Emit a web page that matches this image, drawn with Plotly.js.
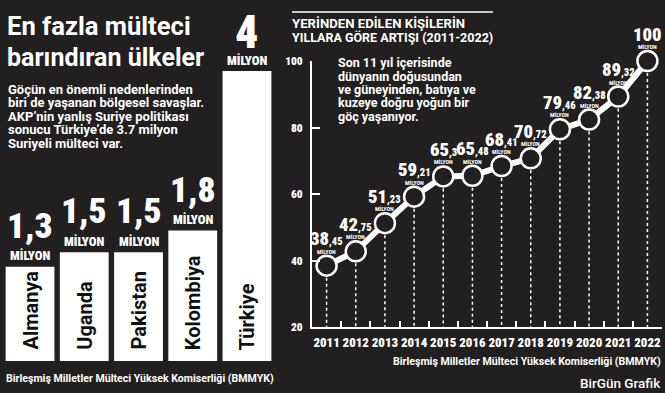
<!DOCTYPE html>
<html><head><meta charset="utf-8">
<script src="https://cdn.plot.ly/plotly-3.0.1.min.js"></script>
<style>html,body{margin:0;padding:0;background:#211f20;}#chart{width:665px;height:393px;}
text[style*="zzcond"]{font-stretch:75% !important;}</style>
</head><body><div id="chart"></div>
<script>
// ---- data ----
const countries = ['Almanya', 'Uganda', 'Pakistan', 'Kolombiya', 'Türkiye'];
const refugees = [1.3, 1.5, 1.5, 1.8, 4];
const years = [2011, 2012, 2013, 2014, 2015, 2016, 2017, 2018, 2019, 2020, 2021, 2022];
const displaced = [38.45, 42.75, 51.23, 59.21, 65.3, 65.48, 68.41, 70.72, 79.46, 82.38, 89.32, 100];
const yTicks = [20, 40, 60, 80, 100];
const unit = 'MİLYON';
const leftTitle = ['En fazla mülteci', 'barındıran ülkeler'];
const leftText = ['Göçün en önemli nedenlerinden', 'biri de yaşanan bölgesel savaşlar.', 'AKP’nin yanlış Suriye politikası', 'sonucu Türkiye’de 3.7 milyon', 'Suriyeli mülteci var.'];
const rightTitle = ['YERİNDEN EDİLEN KİŞİLERİN', 'YILLARA GÖRE ARTIŞI (2011-2022)'];
const rightText = ['Son 11 yıl içerisinde', 'dünyanın doğusundan', 've güneyinden, batıya ve', 'kuzeye doğru yoğun bir', 'göç yaşanıyor.'];
const source = 'Birleşmiş Milletler Mülteci Yüksek Komiserliği (BMMYK)';
const credit = 'BirGün Grafik';

// ---- condensed font detection ----
const ctx = document.createElement('canvas').getContext('2d');
function digitEm(fam, stretch) {
  ctx.font = (stretch ? 'condensed ' : '') + 'bold 100px ' + fam;
  if ('fontStretch' in ctx) ctx.fontStretch = stretch ? 'condensed' : 'normal';
  return ctx.measureText('0123456789').width / 1000;
}
function present(name) {
  const s = 'abcdefghijklmnopqrstuvwxyz 0123456789 WMİ';
  for (const base of ['monospace', 'serif']) {
    ctx.font = '32px ' + base; const w0 = ctx.measureText(s).width;
    ctx.font = '32px "' + name + '", ' + base; const w1 = ctx.measureText(s).width;
    if (Math.abs(w0 - w1) > 0.5) return true;
  }
  return false;
}
let COND = 'Roboto', DEM = digitEm('Roboto', false);
const named = ['Liberation Sans Narrow', 'Roboto Condensed', 'Open Sans Condensed', 'Noto Sans Condensed', 'DejaVu Sans Condensed'];
let found = false;
for (const n of named) { if (present(n)) { COND = '"' + n + '"'; DEM = digitEm(COND, false); found = true; break; } }
if (!found) {
  for (const n of ['Open Sans', 'Noto Sans', 'DejaVu Sans']) {
    const a = digitEm('"' + n + '"', false), b = digitEm('"' + n + '"', true);
    if (present(n) && b < a * 0.95) { COND = '"' + n + '", zzcond'; DEM = b; found = true; break; }
  }
}
const FIT = Math.min(1.15, 0.456 / DEM);
const KB = Math.pow(FIT, 0.45);
const yearSize = Math.min(17, 26 / (4 * DEM));

const SANS = 'Roboto, "Open Sans", sans-serif';
const BG = '#211f20';
const W = 665, H = 393;
const px = x => x / W, py = y => 1 - y / H;

const ann = [];
function textAt(text, x, y, size, opts = {}) {
  ann.push(Object.assign({
    text: text, xref: 'paper', yref: 'paper', x: px(x), y: py(y), showarrow: false,
    xanchor: 'left', yanchor: 'middle',
    font: { family: SANS, size: size, color: '#ffffff', weight: 700 }
  }, opts));
}

textAt(leftTitle[0], 5, 26, 25.6);
textAt(leftTitle[1], 5, 57, 25);
leftText.forEach((t, i) => textAt(t, 6, 89.5 + i * 13.4, 13));
textAt(rightTitle[0], 290, 23, 13.2);
textAt(rightTitle[1], 290, 38, 12.5);
rightText.forEach((t, i) => textAt(t, 336, 63 + i * 13.3, 12.5));
textAt(source, 4, 378, 10.6);
textAt(source, 663, 361, 10.6, { xanchor: 'right' });
textAt(credit, 663, 383, 13.5, { xanchor: 'right', font: { family: SANS, size: 13.5, color: '#ffffff', weight: 500 } });

// bar labels
countries.forEach((c, i) => {
  const lab = String(refugees[i]).replace('.', ',');
  const big = i === countries.length - 1 ? 1.3 : 1;
  ann.push({ text: lab, xref: 'x2', yref: 'y2', x: c, y: refugees[i], showarrow: false, yanchor: 'middle', yshift: big > 1 ? 39 : 41,
    font: { family: COND, size: 37 * KB * big, color: '#fff', weight: 900 } });
  ann.push({ text: unit, xref: 'x2', yref: 'y2', x: c, y: refugees[i], showarrow: false, yanchor: 'middle', yshift: 11,
    font: { family: COND, size: 13.5 * KB, color: '#fff', weight: 900 } });
  ann.push({ text: c, xref: 'x2', yref: 'y2', x: c, y: 0, showarrow: false, textangle: -90, yanchor: 'bottom', yshift: 9,
    font: { family: SANS, size: 20, color: '#111', weight: 700 } });
});

// point labels
years.forEach((yr, i) => {
  const parts = String(displaced[i]).split('.');
  const dec = parts[1] ? ',' + parts[1] : '';
  ann.push({ text: parts[0] + (dec ? '<span style="font-size:' + (11 * KB).toFixed(1) + 'px">' + dec + '</span>' : ''),
    xref: 'x', yref: 'y', x: yr, y: displaced[i], showarrow: false, yanchor: 'middle', yshift: 26.5,
    font: { family: COND, size: 19.5 * KB, color: '#fff', weight: 900 } });
  ann.push({ text: unit, xref: 'x', yref: 'y', x: yr, y: displaced[i], showarrow: false, yanchor: 'middle', yshift: 14.5,
    font: { family: COND, size: 6, color: '#fff', weight: 700 } });
});

// drop lines
const dropX = [], dropY = [];
years.forEach((yr, i) => { dropX.push(yr, yr, null); dropY.push(displaced[i], yTicks[0], null); });

const traces = [
  { type: 'bar', x: countries, y: refugees, xaxis: 'x2', yaxis: 'y2', marker: { color: '#ffffff' }, hoverinfo: 'skip' },
  { type: 'scatter', mode: 'lines', x: dropX, y: dropY, line: { color: '#ffffff', width: 1.5, dash: 'dot' }, hoverinfo: 'skip' },
  { type: 'scatter', mode: 'lines+markers', x: years, y: displaced, cliponaxis: false,
    line: { color: '#ffffff', width: 6 },
    marker: { size: 20, color: BG, line: { color: '#ffffff', width: 2.5 } }, hoverinfo: 'skip' }
];

const boundaries = years.map(y => y - 0.5).concat([years[years.length - 1] + 0.5]);
const xr = [years[0] - 0.5, years[years.length - 1] + 0.5];
traces.push({ type: 'scatter', x: xr, y: [yTicks[0], yTicks[0]], xaxis: 'x3', yaxis: 'y', mode: 'none', hoverinfo: 'skip' });

const layout = {
  width: W, height: H, margin: { l: 0, r: 0, t: 0, b: 0 },
  paper_bgcolor: BG, plot_bgcolor: 'rgba(0,0,0,0)', showlegend: false, bargap: 0.1,
  xaxis: { domain: [px(312), px(662)], range: xr, tickmode: 'array', tickvals: years, ticktext: years.map(String),
    ticks: '', showline: true, linecolor: '#fff', linewidth: 2, showgrid: false, zeroline: false, anchor: 'y',
    tickangle: 0, tickfont: { family: COND, size: yearSize, color: '#fff', weight: 900 }, ticklabelstandoff: 3 },
  xaxis3: { overlaying: 'x', anchor: 'y', range: xr, tickmode: 'array', tickvals: boundaries, ticks: 'inside', ticklen: 6,
    tickwidth: 2, tickcolor: '#fff', showticklabels: false, showgrid: false, zeroline: false, showline: false },
  yaxis: { domain: [py(327), py(61)], range: [yTicks[0], yTicks[yTicks.length - 1]], tickmode: 'array', tickvals: yTicks,
    ticks: 'inside', ticklen: 8, tickwidth: 2, tickcolor: '#fff', showline: true, linecolor: '#fff', linewidth: 2,
    showgrid: false, zeroline: false, anchor: 'x', ticklabelstandoff: 5,
    tickfont: { family: COND, size: 12 * KB, color: '#fff', weight: 900 } },
  xaxis2: { domain: [px(2.9), px(274.1)], type: 'category', visible: false, anchor: 'y2' },
  yaxis2: { domain: [py(361), py(71)], range: [0, 4], visible: false, anchor: 'x2' },
  shapes: [{ type: 'line', xref: 'paper', yref: 'paper', x0: px(292), x1: px(493), y0: py(12), y1: py(12), line: { color: '#fff', width: 1.5 } }],
  annotations: ann
};
Plotly.newPlot('chart', traces, layout, { staticPlot: true, displayModeBar: false });
</script></body></html>
